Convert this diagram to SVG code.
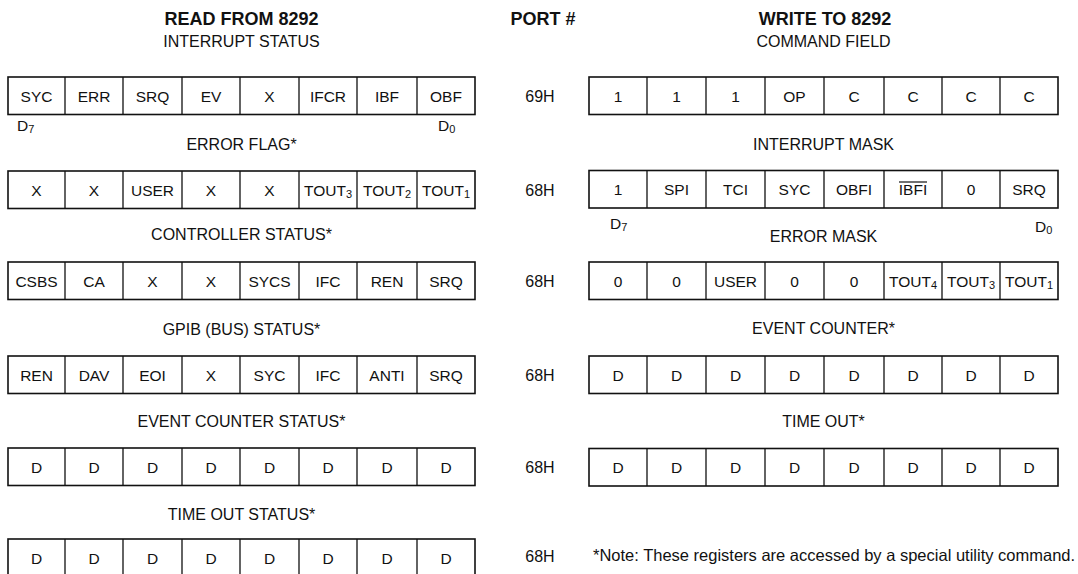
<svg xmlns="http://www.w3.org/2000/svg" width="1078" height="574" viewBox="0 0 1078 574">
<style>
.bg{fill:#fff}
.box{fill:none;stroke:#111;stroke-width:1.6}
.div{stroke:#111;stroke-width:1.3}
text{font-family:"Liberation Sans",Arial,Helvetica,sans-serif;fill:#111}
.c{font-size:15.5px;text-anchor:middle}
.h{font-size:18px;font-weight:bold;text-anchor:middle}
.s{font-size:16px;text-anchor:middle}
.p{font-size:16px;text-anchor:middle}
.d{font-size:15.5px}
.n{font-size:16.5px}
.ol{stroke:#111;stroke-width:1.2}
</style>
<defs>
<g id="gridL">
<rect class="box" x="8" y="0" width="467" height="37.5"/>
<path class="div" d="M65 0V37.5M123 0V37.5M182 0V37.5M240 0V37.5M299 0V37.5M357 0V37.5M417 0V37.5"/>
</g>
<g id="gridR">
<rect class="box" x="589" y="0" width="469" height="37.5"/>
<path class="div" d="M647 0V37.5M706 0V37.5M765 0V37.5M824 0V37.5M884 0V37.5M942 0V37.5M1000 0V37.5"/>
</g>
</defs>
<rect class="bg" x="0" y="0" width="1078" height="574"/>

<g id="headers">
<text class="h" x="241.5" y="25">READ FROM 8292</text>
<text class="h" x="543" y="25">PORT #</text>
<text class="h" x="825" y="25">WRITE TO 8292</text>
</g>

<g id="interrupt-status">
<text class="s" x="241.5" y="47">INTERRUPT STATUS</text>
<use href="#gridL" y="77"/>
<text class="c" x="36.5" y="102">SYC</text>
<text class="c" x="94" y="102">ERR</text>
<text class="c" x="152.5" y="102">SRQ</text>
<text class="c" x="211" y="102">EV</text>
<text class="c" x="269.5" y="102">X</text>
<text class="c" x="328" y="102">IFCR</text>
<text class="c" x="387" y="102">IBF</text>
<text class="c" x="446" y="102">OBF</text>
<text class="d" x="17" y="131">D<tspan font-size="11" dy="2">7</tspan></text>
<text class="d" x="438" y="131">D<tspan font-size="11" dy="2">0</tspan></text>
</g>

<g id="error-flag">
<text class="s" x="241.5" y="150">ERROR FLAG*</text>
<use href="#gridL" y="171"/>
<text class="c" x="36.5" y="195.5">X</text>
<text class="c" x="94" y="195.5">X</text>
<text class="c" x="152.5" y="195.5">USER</text>
<text class="c" x="211" y="195.5">X</text>
<text class="c" x="269.5" y="195.5">X</text>
<text class="c" x="328" y="195.5">TOUT<tspan font-size="11" dy="2">3</tspan></text>
<text class="c" x="387" y="195.5">TOUT<tspan font-size="11" dy="2">2</tspan></text>
<text class="c" x="446" y="195.5">TOUT<tspan font-size="11" dy="2">1</tspan></text>
</g>

<g id="controller-status">
<text class="s" x="241.5" y="240">CONTROLLER STATUS*</text>
<use href="#gridL" y="262"/>
<text class="c" x="36.5" y="286.5">CSBS</text>
<text class="c" x="94" y="286.5">CA</text>
<text class="c" x="152.5" y="286.5">X</text>
<text class="c" x="211" y="286.5">X</text>
<text class="c" x="269.5" y="286.5">SYCS</text>
<text class="c" x="328" y="286.5">IFC</text>
<text class="c" x="387" y="286.5">REN</text>
<text class="c" x="446" y="286.5">SRQ</text>
</g>

<g id="gpib-status">
<text class="s" x="241.5" y="335">GPIB (BUS) STATUS*</text>
<use href="#gridL" y="356"/>
<text class="c" x="36.5" y="380.5">REN</text>
<text class="c" x="94" y="380.5">DAV</text>
<text class="c" x="152.5" y="380.5">EOI</text>
<text class="c" x="211" y="380.5">X</text>
<text class="c" x="269.5" y="380.5">SYC</text>
<text class="c" x="328" y="380.5">IFC</text>
<text class="c" x="387" y="380.5">ANTI</text>
<text class="c" x="446" y="380.5">SRQ</text>
</g>

<g id="event-counter-status">
<text class="s" x="241.5" y="427">EVENT COUNTER STATUS*</text>
<use href="#gridL" y="448"/>
<text class="c" x="36.5" y="473">D</text>
<text class="c" x="94" y="473">D</text>
<text class="c" x="152.5" y="473">D</text>
<text class="c" x="211" y="473">D</text>
<text class="c" x="269.5" y="473">D</text>
<text class="c" x="328" y="473">D</text>
<text class="c" x="387" y="473">D</text>
<text class="c" x="446" y="473">D</text>
</g>

<g id="time-out-status">
<text class="s" x="241.5" y="520">TIME OUT STATUS*</text>
<use href="#gridL" y="539"/>
<text class="c" x="36.5" y="564">D</text>
<text class="c" x="94" y="564">D</text>
<text class="c" x="152.5" y="564">D</text>
<text class="c" x="211" y="564">D</text>
<text class="c" x="269.5" y="564">D</text>
<text class="c" x="328" y="564">D</text>
<text class="c" x="387" y="564">D</text>
<text class="c" x="446" y="564">D</text>
</g>

<g id="ports">
<text class="p" x="540" y="102">69H</text>
<text class="p" x="540" y="195.5">68H</text>
<text class="p" x="540" y="286.5">68H</text>
<text class="p" x="540" y="380.5">68H</text>
<text class="p" x="540" y="473">68H</text>
<text class="p" x="540" y="562">68H</text>
</g>

<g id="command-field">
<text class="s" x="823.5" y="47">COMMAND FIELD</text>
<use href="#gridR" y="77"/>
<text class="c" x="618" y="102">1</text>
<text class="c" x="676.5" y="102">1</text>
<text class="c" x="735.5" y="102">1</text>
<text class="c" x="794.5" y="102">OP</text>
<text class="c" x="854" y="102">C</text>
<text class="c" x="913" y="102">C</text>
<text class="c" x="971" y="102">C</text>
<text class="c" x="1029" y="102">C</text>
</g>

<g id="interrupt-mask">
<text class="s" x="823.5" y="150">INTERRUPT MASK</text>
<use href="#gridR" y="170.5"/>
<text class="c" x="618" y="195">1</text>
<text class="c" x="676.5" y="195">SPI</text>
<text class="c" x="735.5" y="195">TCI</text>
<text class="c" x="794.5" y="195">SYC</text>
<text class="c" x="854" y="195">OBFI</text>
<text class="c" x="913" y="195">IBFI</text>
<line class="ol" x1="899" y1="182" x2="927" y2="182"/>
<text class="c" x="971" y="195">0</text>
<text class="c" x="1029" y="195">SRQ</text>
<text class="d" x="610" y="229">D<tspan font-size="11" dy="2">7</tspan></text>
<text class="d" x="1035" y="232">D<tspan font-size="11" dy="2">0</tspan></text>
</g>

<g id="error-mask">
<text class="s" x="823.5" y="242">ERROR MASK</text>
<use href="#gridR" y="262"/>
<text class="c" x="618" y="286.5">0</text>
<text class="c" x="676.5" y="286.5">0</text>
<text class="c" x="735.5" y="286.5">USER</text>
<text class="c" x="794.5" y="286.5">0</text>
<text class="c" x="854" y="286.5">0</text>
<text class="c" x="913" y="286.5">TOUT<tspan font-size="11" dy="2">4</tspan></text>
<text class="c" x="971" y="286.5">TOUT<tspan font-size="11" dy="2">3</tspan></text>
<text class="c" x="1029" y="286.5">TOUT<tspan font-size="11" dy="2">1</tspan></text>
</g>

<g id="event-counter">
<text class="s" x="823.5" y="334">EVENT COUNTER*</text>
<use href="#gridR" y="356"/>
<text class="c" x="618" y="380.5">D</text>
<text class="c" x="676.5" y="380.5">D</text>
<text class="c" x="735.5" y="380.5">D</text>
<text class="c" x="794.5" y="380.5">D</text>
<text class="c" x="854" y="380.5">D</text>
<text class="c" x="913" y="380.5">D</text>
<text class="c" x="971" y="380.5">D</text>
<text class="c" x="1029" y="380.5">D</text>
</g>

<g id="time-out">
<text class="s" x="823.5" y="427">TIME OUT*</text>
<use href="#gridR" y="448.5"/>
<text class="c" x="618" y="473">D</text>
<text class="c" x="676.5" y="473">D</text>
<text class="c" x="735.5" y="473">D</text>
<text class="c" x="794.5" y="473">D</text>
<text class="c" x="854" y="473">D</text>
<text class="c" x="913" y="473">D</text>
<text class="c" x="971" y="473">D</text>
<text class="c" x="1029" y="473">D</text>
</g>

<g id="footnote">
<text class="n" x="593" y="561">*Note: These registers are accessed by a special utility command.</text>
</g>
</svg>
